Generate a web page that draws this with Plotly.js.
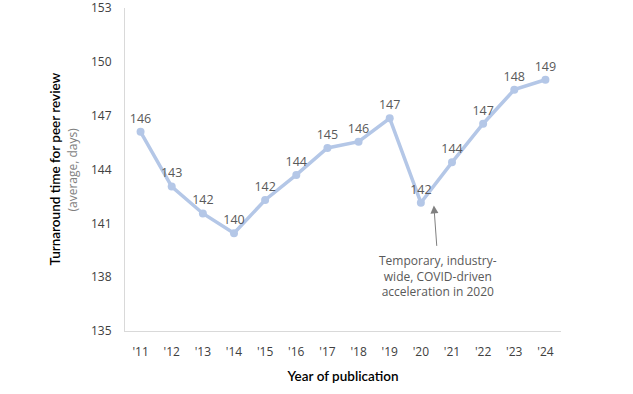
<!DOCTYPE html>
<html>
<head>
<meta charset="utf-8">
<script src="https://cdn.plot.ly/plotly-3.0.1.min.js"></script>
<style>html,body{margin:0;padding:0;background:#fff;}#chart{width:633px;height:394px;}</style>
</head>
<body>
<div id="chart"></div>
<script>
const years = ["'11","'12","'13","'14","'15","'16","'17","'18","'19","'20","'21","'22","'23","'24"];
const turnaround = [146.1,143.05,141.55,140.45,142.3,143.7,145.2,145.55,146.85,142.15,144.4,146.55,148.45,149.0];
const pointLabels = ["146","143","142","140","142","144","145","146","147","142","144","147","148","149"];
const yTicks = [135,138,141,144,147,150,153];

const trace = {
  x: years,
  y: turnaround,
  text: pointLabels,
  type: 'scatter',
  mode: 'lines+markers+text',
  textposition: 'top center',
  textfont: {family: 'Open Sans, sans-serif', size: 12.5, color: '#595959'},
  line: {color: '#b4c7e7', width: 3.5},
  marker: {color: '#b4c7e7', size: 8},
  hoverinfo: 'skip',
  cliponaxis: false
};

const layout = {
  width: 633, height: 394,
  margin: {l: 125, r: 72, t: 8, b: 63},
  paper_bgcolor: '#fff', plot_bgcolor: '#fff',
  showlegend: false,
  font: {family: 'Open Sans, sans-serif', color: '#404040'},
  xaxis: {
    type: 'category',
    range: [-0.5, 13.5],
    showgrid: false, zeroline: false,
    showline: true, linecolor: '#d9d9d9', linewidth: 1,
    ticks: '', ticklabelstandoff: 10,
    tickfont: {family: 'Open Sans, sans-serif', size: 12, color: '#404040'},
    title: {text: 'Year of publication', font: {family: 'Lato, sans-serif', size: 13.5, color: '#000', weight: 600}, standoff: 12}
  },
  yaxis: {
    range: [135, 153],
    tickvals: yTicks,
    showgrid: false, zeroline: false,
    showline: true, linecolor: '#d9d9d9', linewidth: 1,
    ticks: '', ticklabelstandoff: 10,
    ticklabeloverflow: 'allow',
    tickfont: {family: 'Open Sans, sans-serif', size: 12, color: '#404040'}
  },
  annotations: [
    {xref: 'paper', yref: 'paper', x: 0, y: 0.5, xshift: -71, xanchor: 'center', yanchor: 'middle',
     textangle: -90, showarrow: false,
     text: 'Turnaround time for peer review',
     font: {family: 'Lato, sans-serif', size: 13.5, color: '#000', weight: 600}},
    {xref: 'paper', yref: 'paper', x: 0, y: 0.5, xshift: -53, xanchor: 'center', yanchor: 'middle',
     textangle: -90, showarrow: false,
     text: '(average, days)',
     font: {family: 'Open Sans, sans-serif', size: 12, color: '#7f7f7f'}},
    {x: "'20", y: 138.05, xshift: 17, showarrow: false, align: 'center',
     text: 'Temporary, industry-<br>wide, COVID-driven<br>acceleration in 2020',
     font: {family: 'Open Sans, sans-serif', size: 12, color: '#595959'}},
    {x: "'20", y: 142.0, xshift: 13, text: '', showarrow: true,
     ax: 3, ay: 42, arrowhead: 2, arrowsize: 1.6, arrowwidth: 1, arrowcolor: '#808080', standoff: 0}
  ]
};

Plotly.newPlot('chart', [trace], layout, {displayModeBar: false, staticPlot: true});
</script>
</body>
</html>
